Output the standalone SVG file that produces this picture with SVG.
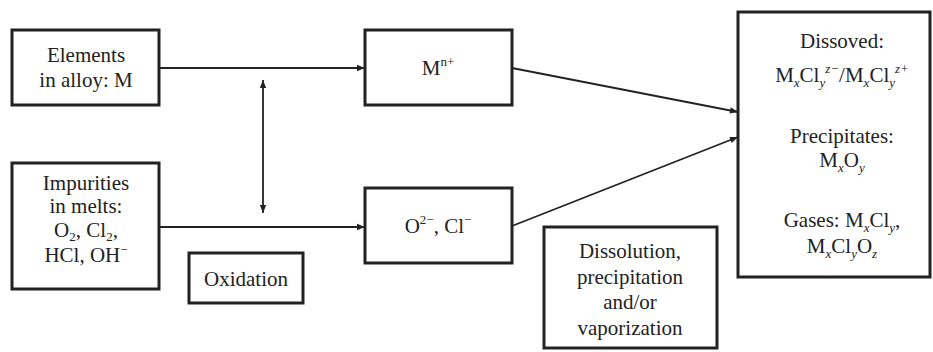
<svg xmlns="http://www.w3.org/2000/svg" width="933" height="352" viewBox="0 0 933 352" font-family="'Liberation Serif', 'DejaVu Serif', serif">
<style>
.box{fill:#fff;stroke:#222;stroke-width:3}
.ln{fill:none;stroke:#222;stroke-width:1.8}
text{font-family:'Liberation Serif','Times New Roman',serif;font-size:21px;fill:#222;text-anchor:middle}
.s{font-size:13px}
.i{font-style:italic}
</style>
<defs>
<marker id="ah" viewBox="0 0 10 10" refX="10" refY="5" markerWidth="10" markerHeight="8" markerUnits="userSpaceOnUse" orient="auto-start-reverse">
<path d="M0,1 L10,5 L0,9 Z" fill="#222"/>
</marker>
</defs>
<rect width="933" height="352" fill="#fff"/>
<g id="connectors">
<line class="ln" x1="159" y1="68" x2="365" y2="68" marker-end="url(#ah)"/>
<line class="ln" x1="159" y1="227" x2="365" y2="227" marker-end="url(#ah)"/>
<line class="ln" x1="263" y1="80" x2="263" y2="213" marker-start="url(#ah)" marker-end="url(#ah)"/>
<line class="ln" x1="512" y1="68" x2="738" y2="112" marker-end="url(#ah)"/>
<line class="ln" x1="512" y1="226" x2="738" y2="137" marker-end="url(#ah)"/>
</g>
<g id="elements">
<rect class="box" x="12" y="30" width="147" height="75"/>
<text x="86" y="62">Elements</text>
<text x="86" y="87">in alloy: M</text>
</g>
<g id="impurities">
<rect class="box" x="12" y="163" width="147" height="126"/>
<text x="86" y="190">Impurities</text>
<text x="86" y="213">in melts:</text>
<text x="86" y="237">O<tspan class="s" dy="4">2</tspan><tspan dy="-4">, Cl</tspan><tspan class="s" dy="4">2</tspan><tspan dy="-4">,</tspan></text>
<text x="86" y="262">HCl, OH<tspan class="s" dy="-8">−</tspan></text>
</g>
<g id="oxidation">
<rect class="box" x="189" y="253" width="114" height="50"/>
<text x="246" y="286">Oxidation</text>
</g>
<g id="mn">
<rect class="box" x="365" y="30" width="147" height="75"/>
<text x="438" y="75">M<tspan class="s" dy="-9">n+</tspan></text>
</g>
<g id="ocl">
<rect class="box" x="365" y="188" width="147" height="75"/>
<text x="438" y="233">O<tspan class="s" dy="-9">2−</tspan><tspan dy="9">, Cl</tspan><tspan class="s" dy="-9">−</tspan></text>
</g>
<g id="dissolution">
<rect class="box" x="544" y="227" width="173" height="121"/>
<text x="630" y="258">Dissolution,</text>
<text x="630" y="284">precipitation</text>
<text x="630" y="309">and/or</text>
<text x="630" y="335">vaporization</text>
</g>
<g id="products">
<rect class="box" x="738" y="12" width="192" height="265"/>
<text x="842" y="48">Dissoved:</text>
<text x="842" y="82">M<tspan class="s i" dy="5">x</tspan><tspan dy="-5">Cl</tspan><tspan class="s i" dy="5">y</tspan><tspan class="s i" dy="-14">z−</tspan><tspan dy="9">/M</tspan><tspan class="s i" dy="5">x</tspan><tspan dy="-5">Cl</tspan><tspan class="s i" dy="5">y</tspan><tspan class="s i" dy="-14">z+</tspan></text>
<text x="842" y="143">Precipitates:</text>
<text x="842" y="167">M<tspan class="s i" dy="5">x</tspan><tspan dy="-5">O</tspan><tspan class="s i" dy="5">y</tspan></text>
<text x="842" y="227">Gases: M<tspan class="s i" dy="5">x</tspan><tspan dy="-5">Cl</tspan><tspan class="s i" dy="5">y</tspan><tspan dy="-5">,</tspan></text>
<text x="842" y="253">M<tspan class="s i" dy="5">x</tspan><tspan dy="-5">Cl</tspan><tspan class="s i" dy="5">y</tspan><tspan dy="-5">O</tspan><tspan class="s i" dy="5">z</tspan></text>
</g>
</svg>
